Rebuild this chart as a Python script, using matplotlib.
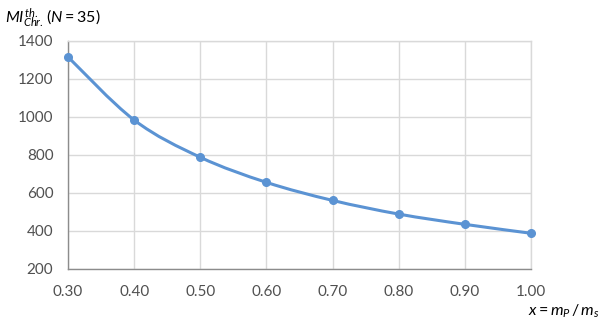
import matplotlib
matplotlib.use("Agg")
import matplotlib.pyplot as plt
from matplotlib.path import Path
from matplotlib.patches import PathPatch
import numpy as np

matplotlib.rcParams.update({
    "font.family": ["Lato", "DejaVu Sans"],
    "mathtext.fontset": "custom",
    "mathtext.rm": "Lato",
    "mathtext.it": "Lato:italic",
    "mathtext.bf": "Lato:bold",
})

# data
mass_ratio = [0.30, 0.40, 0.50, 0.60, 0.70, 0.80, 0.90, 1.00]
mi_values = [1316, 984, 788, 656, 561, 489, 435, 388]
x_ticks = [0.30, 0.40, 0.50, 0.60, 0.70, 0.80, 0.90, 1.00]
y_ticks = [200, 400, 600, 800, 1000, 1200, 1400]

LINE_BLUE = "#5B93D3"
GRID = "#D9D9D9"
AXIS = "#8C8C8C"
TEXT = "#505050"


def smooth_path(xs, ys, tension=1 / 6):
    # cubic Bezier through the points (Excel-like "smoothed line")
    xs = np.asarray(xs, float)
    ys = np.asarray(ys, float)
    n = len(xs)
    verts = [(xs[0], ys[0])]
    codes = [Path.MOVETO]
    for i in range(n - 1):
        x0, y0 = (xs[i - 1], ys[i - 1]) if i > 0 else (xs[i], ys[i])
        x3, y3 = (xs[i + 2], ys[i + 2]) if i + 2 < n else (xs[i + 1], ys[i + 1])
        c1 = (xs[i] + (xs[i + 1] - x0) * tension, ys[i] + (ys[i + 1] - y0) * tension)
        c2 = (xs[i + 1] - (x3 - xs[i]) * tension, ys[i + 1] - (y3 - ys[i]) * tension)
        verts += [c1, c2, (xs[i + 1], ys[i + 1])]
        codes += [Path.CURVE4] * 3
    return Path(verts, codes)


fig = plt.figure(figsize=(6.05, 3.29), dpi=100)
ax = fig.add_axes([0.1124, 0.1824, 0.7653, 0.6930])

ax.set_xlim(0.30, 1.00)
ax.set_ylim(200, 1400)
ax.set_xticks(x_ticks)
ax.set_yticks(y_ticks)
ax.set_xticklabels([f"{v:.2f}" for v in x_ticks])
ax.set_yticklabels([str(v) for v in y_ticks])
ax.tick_params(length=0, labelsize=11, labelcolor=TEXT)
ax.tick_params(axis="x", pad=11.5)
ax.tick_params(axis="y", pad=10.5)

ax.grid(True, color=GRID, linewidth=1.0)
ax.set_axisbelow(True)
for side in ("top", "right"):
    ax.spines[side].set_color(GRID)
    ax.spines[side].set_linewidth(1.0)
ax.spines["left"].set_color(AXIS)
ax.spines["bottom"].set_color(AXIS)
ax.spines["left"].set_linewidth(1.0)
ax.spines["bottom"].set_linewidth(1.0)

ax.add_patch(PathPatch(smooth_path(mass_ratio, mi_values), facecolor="none",
                       edgecolor=LINE_BLUE, linewidth=2.2, capstyle="round",
                       zorder=3, clip_on=False))
ax.plot(mass_ratio, mi_values, linestyle="none", marker="o", markersize=5.5,
        color=LINE_BLUE, zorder=4, clip_on=False)

fig.text(0.008, 0.945, r"$MI^{th.}_{Chr.}\,(N = 35)$", fontsize=11.5,
         color="black", ha="left", va="center")
fig.text(0.992, 0.055, r"$x = m_P\,/\,m_s$", fontsize=11.5,
         color="black", ha="right", va="center")

fig.savefig("out.png", dpi=100)
